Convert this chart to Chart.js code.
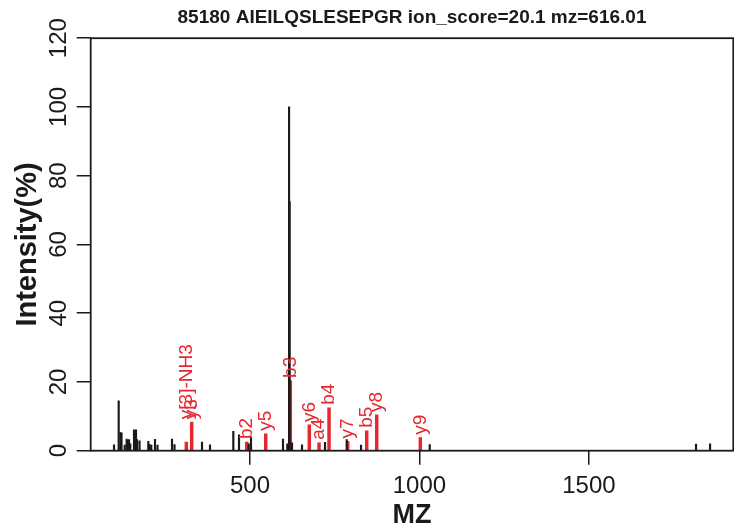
<!DOCTYPE html>
<html>
<head>
<meta charset="utf-8">
<script src="https://cdn.jsdelivr.net/npm/chart.js@4.4.1/dist/chart.umd.min.js"></script>
<style>
  html, body { margin: 0; padding: 0; background: #fff; }
  canvas { display: block; }
</style>
</head>
<body>
<canvas id="spectrum" width="734" height="529"></canvas>
<script>
// Spectrum peaks (unmatched, black)
const peakMz = [98.8, 112.6, 117.9, 120.9, 130.3, 136.2, 139.2, 143.0, 146.8, 157.8,
  163.7, 166.6, 174.0, 200.0, 204.1, 208.8, 219.7, 227.1, 269.9, 277.3,
  358.4, 382.0, 450.8, 467.6, 496.2, 503.0, 597.4, 610.1, 615.3, 617.0,
  624.0, 653.5, 721.4, 785.4, 827.6, 1030.3, 1816.0, 1857.4];
const peakInt = [1.7, 14.5, 5.3, 5.2, 1.6, 3.4, 3.0, 3.2, 2.0, 6.1,
  6.1, 3.2, 2.9, 2.7, 1.8, 1.6, 3.3, 1.6, 3.4, 1.8,
  2.5, 1.7, 5.6, 4.6, 2.0, 3.8, 3.4, 2.0, 100, 72.5,
  2.3, 1.7, 2.4, 3.2, 1.6, 1.8, 1.9, 2.0];

// Matched fragment ions (red, labelled)
const ionLabels = ['y[3]-NH3', 'y3', 'b2', 'y5', 'b3', 'y6', 'a4', 'b4', 'y7', 'b5', 'y8', 'y9'];
const ionMz = [312.1, 328.0, 490.3, 546.4, 619.0, 675.0, 703.7, 733.2, 788.3, 844.4, 873.9, 1002.6];
const ionInt = [2.5, 8.3, 2.5, 4.9, 20.3, 7.5, 2.3, 12.5, 2.7, 5.8, 10.4, 3.8];

// Axis ticks
const xTicks = [500, 1000, 1500];
const yTicks = [0, 20, 40, 60, 80, 100, 120];

const FONT = "'Liberation Sans', Arial, Helvetica, sans-serif";
const INK = '#1a1a1a';
const RED = '#e8262d';

// labels of ions closer than this (in m/z) share the level of the tallest one
const LABEL_WINDOW = 20;

// box around the plot region + rotated y tick labels + ion labels
const rPlot = {
    id: 'rPlot',
    afterDatasetsDraw(chart) {
        const ctx = chart.ctx;
        const area = chart.chartArea;
        const yScale = chart.scales.y;

        ctx.save();
        ctx.strokeStyle = INK;
        ctx.lineWidth = 1.8;
        ctx.strokeRect(area.left, area.top, area.right - area.left, area.bottom - area.top);

        // y tick labels, rotated like R's las=0
        ctx.fillStyle = INK;
        ctx.font = '24px ' + FONT;
        ctx.textAlign = 'center';
        ctx.textBaseline = 'alphabetic';
        yTicks.forEach(v => {
            ctx.save();
            ctx.translate(area.left - 25, yScale.getPixelForValue(v));
            ctx.rotate(-Math.PI / 2);
            ctx.fillText(String(v), 0, 0);
            ctx.restore();
        });

        // ion labels above the red peaks
        ctx.fillStyle = RED;
        ctx.font = '19px ' + FONT;
        ctx.textAlign = 'left';
        ctx.textBaseline = 'middle';
        chart.getDatasetMeta(1).data.forEach((bar, i) => {
            let level = ionInt[i];
            ionMz.forEach((m, j) => {
                if (Math.abs(m - ionMz[i]) < LABEL_WINDOW) level = Math.max(level, ionInt[j]);
            });
            ctx.save();
            ctx.translate(bar.x, yScale.getPixelForValue(level) - 3);
            ctx.rotate(-Math.PI / 2);
            ctx.fillText(ionLabels[i], 0, 0);
            ctx.restore();
        });
        ctx.restore();
    }
};

new Chart(document.getElementById('spectrum'), {
    type: 'bar',
    data: {
        datasets: [
            {
                label: 'peaks',
                data: peakMz.map((x, i) => ({ x: x, y: peakInt[i] })),
                backgroundColor: INK,
                barThickness: 1.5,
                grouped: false
            },
            {
                label: 'ions',
                data: ionMz.map((x, i) => ({ x: x, y: ionInt[i] })),
                backgroundColor: RED,
                barThickness: 2.8,
                grouped: false
            }
        ]
    },
    options: {
        responsive: false,
        animation: false,
        devicePixelRatio: 1,
        layout: { padding: { left: 0, right: 0.7, top: 0, bottom: 0 } },
        plugins: {
            legend: { display: false },
            tooltip: { enabled: false },
            title: {
                display: true,
                fullSize: false,
                text: '85180 AIEILQSLESEPGR ion_score=20.1 mz=616.01',
                color: INK,
                font: { family: FONT, size: 19, weight: 'bold', lineHeight: 1.2 },
                padding: { top: 6.5, bottom: 8.9 }
            }
        },
        scales: {
            x: {
                type: 'linear',
                min: 30,
                max: 1926,
                offset: false,
                border: { display: false },
                grid: {
                    offset: false,
                    drawOnChartArea: false,
                    drawTicks: true,
                    tickLength: 14,
                    tickColor: INK,
                    lineWidth: 1.5
                },
                afterBuildTicks: scale => { scale.ticks = xTicks.map(v => ({ value: v })); },
                afterFit: scale => { scale.height = 78.3; },
                ticks: {
                    color: INK,
                    font: { family: FONT, size: 24 },
                    padding: 7,
                    maxRotation: 0,
                    autoSkip: false,
                    callback: v => String(v)
                },
                title: {
                    display: true,
                    text: 'MZ',
                    color: INK,
                    font: { family: FONT, size: 27, weight: 'bold', lineHeight: 1 },
                    padding: { top: 0, bottom: 0 }
                }
            },
            y: {
                type: 'linear',
                min: 0,
                max: 120,
                border: { display: false },
                grid: {
                    drawOnChartArea: false,
                    drawTicks: true,
                    tickLength: 14,
                    tickColor: INK,
                    lineWidth: 1.5
                },
                afterBuildTicks: scale => { scale.ticks = yTicks.map(v => ({ value: v })); },
                afterFit: scale => { scale.width = 90.7; },
                ticks: { display: false },
                title: {
                    display: true,
                    text: 'Intensity(%)',
                    color: INK,
                    font: { family: FONT, size: 29, weight: 'bold', lineHeight: 1 },
                    padding: { top: 13.5, bottom: 0 }
                }
            }
        }
    },
    plugins: [rPlot]
});
</script>
</body>
</html>
